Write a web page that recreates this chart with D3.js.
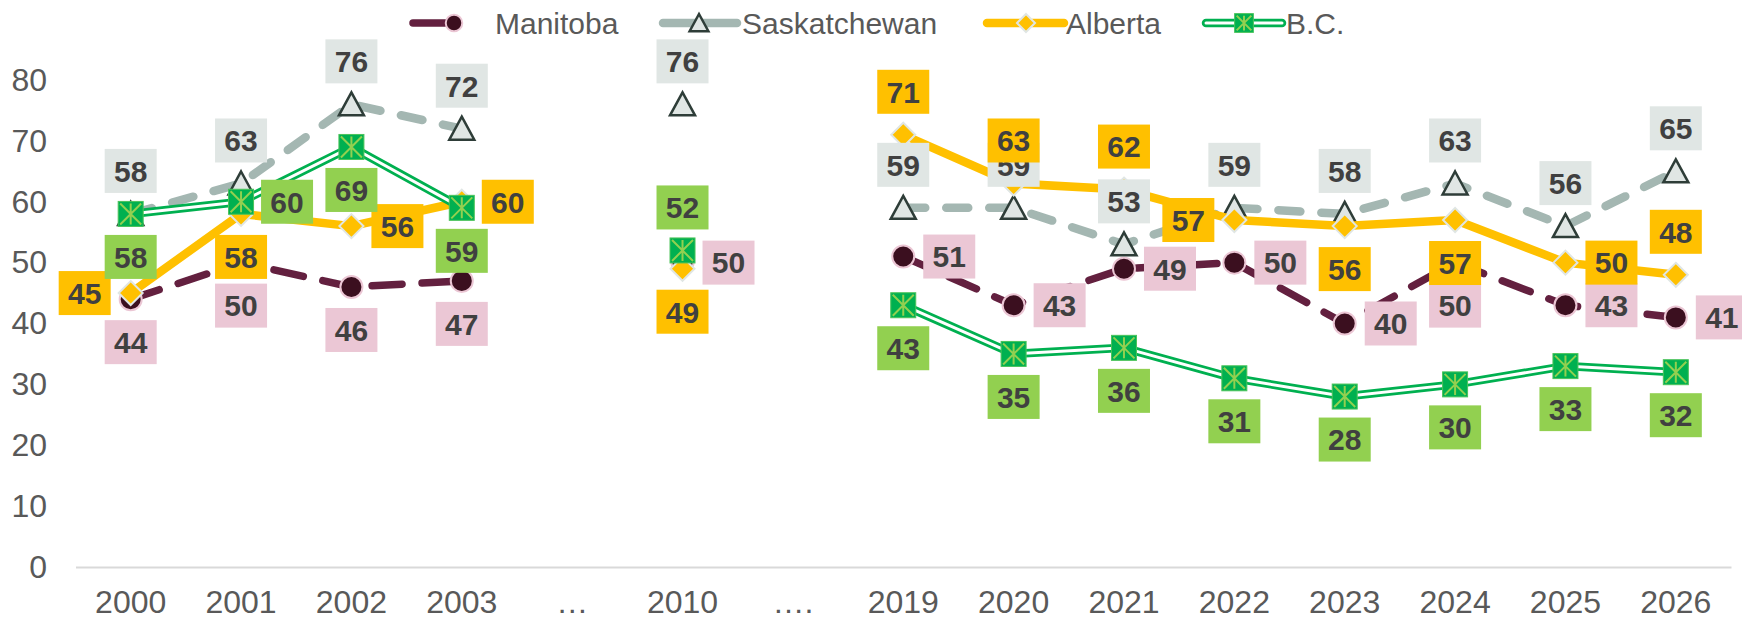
<!DOCTYPE html>
<html>
<head>
<meta charset="utf-8">
<script src="https://cdn.jsdelivr.net/npm/d3@7"></script>
<style>
  body { margin: 0; background: #fff; }
  svg { display: block; font-family: "Liberation Sans", Arial, sans-serif; }
</style>
</head>
<body>
<div id="chart"></div>
<script>
// chart data
const categories = ["2000", "2001", "2002", "2003", "…", "2010", "….", "2019", "2020", "2021", "2022", "2023", "2024", "2025", "2026"];
const manitoba = [44, 50, 46, 47, null, 50, null, 51, 43, 49, 50, 40, 50, 43, 41];
const saskatchewan = [58, 63, 76, 72, null, 76, null, 59, 59, 53, 59, 58, 63, 56, 65];
const alberta = [45, 58, 56, 60, null, 49, null, 71, 63, 62, 57, 56, 57, 50, 48];
const bc = [58, 60, 69, 59, null, 52, null, 43, 35, 36, 31, 28, 30, 33, 32];
const yTicks = [0, 10, 20, 30, 40, 50, 60, 70, 80];

// where each data label sits relative to its point (t, b, l, r)
const manitobaLabelPos = ["b", "b", "b", "b", null, "r", null, "r", "r", "r", "r", "r", "b", "r", "r"];
const saskatchewanLabelPos = ["t", "t", "t", "t", null, "t", null, "t", "t", "t", "t", "t", "t", "t", "t"];
const albertaLabelPos = ["l", "b", "r", "r", null, "b", null, "t", "t", "t", "l", "b", "b", "r", "t"];
const bcLabelPos = ["b", "r", "b", "b", null, "t", null, "b", "b", "b", "b", "b", "b", "b", "b"];

const W = 1742, H = 619;
const svg = d3.select('#chart').append('svg').attr('width', W).attr('height', H);

const x = d3.scaleBand().domain(categories).range([75.5, 1731]);
const y = d3.scaleLinear().domain([0, 80]).range([567, 80]);
const cx = c => x(c) + x.bandwidth() / 2;

// axes
const xAxis = svg.append('g').attr('transform', 'translate(0,567)')
    .call(d3.axisBottom(x).tickSize(0).tickPadding(23));
xAxis.select('.domain').attr('stroke', '#d9d9d9').attr('stroke-width', 2);
xAxis.selectAll('text').attr('font-size', 32).attr('fill', '#595959')
    .attr('font-family', '"Liberation Sans", Arial, sans-serif');

const yAxis = svg.append('g').attr('transform', 'translate(47,0)')
    .call(d3.axisLeft(y).tickValues(yTicks).tickSize(0).tickPadding(0));
yAxis.select('.domain').remove();
yAxis.selectAll('text').attr('font-size', 32).attr('fill', '#595959')
    .attr('font-family', '"Liberation Sans", Arial, sans-serif');

// marker drawing helpers
function drawCircle(g, px, py, s) {
    g.append('circle').attr('cx', px).attr('cy', py).attr('r', 11 * s)
        .attr('fill', '#3b0f1f').attr('stroke', '#ebc6d4').attr('stroke-width', 2);
}
function drawTriangle(g, px, py, s) {
    g.append('path')
        .attr('d', `M${px},${py - 12 * s}L${px + 12.5 * s},${py + 11 * s}L${px - 12.5 * s},${py + 11 * s}Z`)
        .attr('fill', '#e0e6e4').attr('stroke', '#2e3d38').attr('stroke-width', 2.5);
}
function drawDiamond(g, px, py, s) {
    const r = 12 * s;
    g.append('path')
        .attr('d', `M${px},${py - r}L${px + r},${py}L${px},${py + r}L${px - r},${py}Z`)
        .attr('fill', '#ffc000').attr('stroke', '#e0e6e4').attr('stroke-width', 2);
}
function drawSquare(g, px, py, s) {
    const r = 12.5 * s;
    g.append('rect').attr('x', px - r).attr('y', py - r).attr('width', 2 * r).attr('height', 2 * r)
        .attr('fill', '#00b050').attr('stroke', '#4cc35a').attr('stroke-width', 1);
    const d = r - 2;
    g.append('path')
        .attr('d', `M${px - d},${py - d}L${px + d},${py + d}M${px + d},${py - d}L${px - d},${py + d}M${px},${py - d}L${px},${py + d}`)
        .attr('stroke', '#92d050').attr('stroke-width', 2).attr('fill', 'none');
}

const series = [
    { name: 'Manitoba', values: manitoba, pos: manitobaLabelPos, box: '#ebc7d5', marker: drawCircle,
      strokes: [{ color: '#63203f', width: 7.5, dash: '30,20' }] },
    { name: 'Saskatchewan', values: saskatchewan, pos: saskatchewanLabelPos, box: '#e0e6e4', marker: drawTriangle,
      strokes: [{ color: '#a4b7b2', width: 8.5, dash: '22,21' }] },
    { name: 'Alberta', values: alberta, pos: albertaLabelPos, box: '#ffc000', marker: drawDiamond,
      strokes: [{ color: '#ffc000', width: 8.5 }] },
    { name: 'B.C.', values: bc, pos: bcLabelPos, box: '#92d050', marker: drawSquare,
      strokes: [{ color: '#00b050', width: 8.5 }, { color: '#ffffff', width: 3 }] }
];

const line = d3.line()
    .defined(d => d.v != null)
    .x(d => cx(d.c))
    .y(d => y(d.v));

const plot = svg.append('g');
series.forEach(s => {
    const pts = categories.map((c, i) => ({ c: c, v: s.values[i], p: s.pos[i] }));
    s.pts = pts;
    s.strokes.forEach(st => {
        plot.append('path').datum(pts)
            .attr('d', line)
            .attr('fill', 'none')
            .attr('stroke', st.color)
            .attr('stroke-width', st.width)
            .attr('stroke-linecap', st.dash ? 'round' : 'butt')
            .attr('stroke-linejoin', 'round')
            .attr('stroke-dasharray', st.dash || null);
    });
    pts.filter(d => d.v != null).forEach(d => s.marker(plot, cx(d.c), y(d.v), 1));
});

// data labels on top of everything
const labels = svg.append('g');
const offs = { t: [0, -43], b: [0, 43], l: [-46, 0], r: [46, 0] };
series.forEach(s => {
    s.pts.filter(d => d.v != null).forEach(d => {
        const o = offs[d.p];
        const lx = cx(d.c) + o[0], ly = y(d.v) + o[1];
        labels.append('rect')
            .attr('x', lx - 26).attr('y', ly - 22)
            .attr('width', 52).attr('height', 44)
            .attr('fill', s.box);
        labels.append('text')
            .attr('x', lx).attr('y', ly)
            .attr('dy', '0.36em')
            .attr('text-anchor', 'middle')
            .attr('font-size', 30)
            .attr('font-weight', 'bold')
            .attr('fill', '#404040')
            .text(d.v);
    });
});

// legend
const legend = svg.append('g');
const legendItems = [
    { s: series[0], x1: 413, x2: 454, mx: 454, tx: 495 },
    { s: series[1], x1: 663, x2: 737, mx: 699, tx: 742 },
    { s: series[2], x1: 987, x2: 1064, mx: 1026, tx: 1066 },
    { s: series[3], x1: 1206, x2: 1282, mx: 1244, tx: 1286 }
];
const ly0 = 23;
legendItems.forEach(it => {
    it.s.strokes.forEach(st => {
        legend.append('line')
            .attr('x1', it.x1).attr('x2', it.x2).attr('y1', ly0).attr('y2', ly0)
            .attr('stroke', st.color).attr('stroke-width', st.width)
            .attr('stroke-linecap', 'round');
    });
    it.s.marker(legend, it.mx, ly0, 0.75);
    legend.append('text')
        .attr('x', it.tx).attr('y', ly0)
        .attr('dy', '0.36em')
        .attr('font-size', 30)
        .attr('fill', '#595959')
        .text(it.s.name);
});
</script>
</body>
</html>
